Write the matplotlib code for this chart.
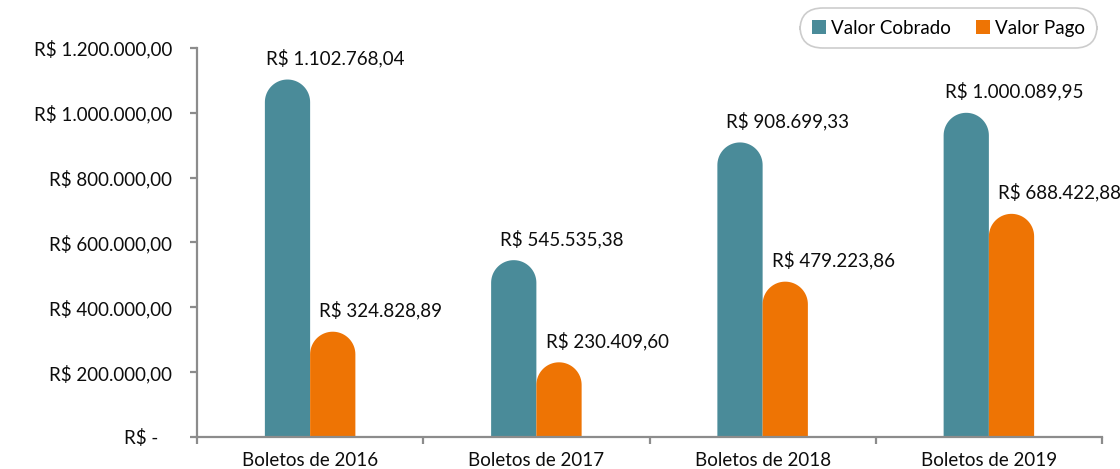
import matplotlib
matplotlib.use("Agg")
import matplotlib.pyplot as plt
from matplotlib.patches import PathPatch
from matplotlib.path import Path
import numpy as np

categories = ["Boletos de 2016", "Boletos de 2017", "Boletos de 2018", "Boletos de 2019"]
valor_cobrado = [1102768.04, 545535.38, 908699.33, 1000089.95]
valor_pago = [324828.89, 230409.60, 479223.86, 688422.88]
series_names = ["Valor Cobrado", "Valor Pago"]
ytick_values = [0, 200000, 400000, 600000, 800000, 1000000, 1200000]
ytick_labels = ["R$ -   ", "R$ 200.000,00", "R$ 400.000,00", "R$ 600.000,00",
                "R$ 800.000,00", "R$ 1.000.000,00", "R$ 1.200.000,00"]

def fmt(v):
    s = f"{v:,.2f}"
    s = s.replace(",", "X").replace(".", ",").replace("X", ".")
    return "R$ " + s

plt.rcParams['font.family'] = ['Lato', 'DejaVu Sans']
FS = 13.5
C_TEAL = "#4A8B99"
C_ORANGE = "#EE7404"
AX_C = "#8C8C8C"
TXT = "#0D0D0D"

W, H = 1120, 469
fig = plt.figure(figsize=(W / 100, H / 100), dpi=100)
ax = fig.add_axes([197 / W, 1 - 437 / H, (1102 - 197) / W, (437 - 48) / H])
ax.set_xlim(-0.5, len(categories) - 0.5)
ax.set_ylim(0, 1200000)

bw = 0.2
x = np.arange(len(categories))
px_per_x = (1102 - 197) / len(categories)
px_per_y = (437 - 48) / 1200000
ry = (bw * px_per_x / 2) / px_per_y
theta = np.linspace(np.pi, 0, 40)

for vals, color, off, name in [(valor_cobrado, C_TEAL, -bw / 2, series_names[0]),
                               (valor_pago, C_ORANGE, bw / 2, series_names[1])]:
    xs = x + off
    # zero-height bars provide legend handles
    ax.bar(xs, [0] * len(xs), width=bw, color=color, label=name, linewidth=0)
    for xi, v in zip(xs, vals):
        cy = v - ry
        arc_x = xi + (bw / 2) * np.cos(theta)
        arc_y = cy + ry * np.sin(theta)
        verts = [(xi - bw / 2, 0), (xi - bw / 2, cy)] + list(zip(arc_x, arc_y)) + \
                [(xi + bw / 2, cy), (xi + bw / 2, 0), (xi - bw / 2, 0)]
        codes = [Path.MOVETO] + [Path.LINETO] * (len(verts) - 2) + [Path.CLOSEPOLY]
        ax.add_patch(PathPatch(Path(verts, codes), facecolor=color, edgecolor='none'))
        ax.annotate(fmt(v), xy=(xi, v), xytext=(48, 12), textcoords='offset pixels',
                    ha='center', va='bottom', fontsize=FS, color=TXT,
                    annotation_clip=False)

for s in ['top', 'right']:
    ax.spines[s].set_visible(False)
for s in ['left', 'bottom']:
    ax.spines[s].set_color(AX_C)
    ax.spines[s].set_linewidth(1.6)

ax.set_yticks(ytick_values)
ax.set_yticklabels(ytick_labels, fontsize=FS, color=TXT)
ax.tick_params(axis='y', length=5, width=1.6, color=AX_C, pad=13)

ax.set_xticks(np.arange(len(categories) + 1) - 0.5)
ax.set_xticklabels([])
ax.tick_params(axis='x', which='major', length=5, width=1.6, color=AX_C)
ax.set_xticks(x, minor=True)
ax.set_xticklabels(categories, minor=True, fontsize=FS, color=TXT)
ax.tick_params(axis='x', which='minor', length=0, pad=11)

leg = fig.legend(loc='upper right', bbox_to_anchor=(1097 / W, 1 - 8 / H), ncol=2,
                 fontsize=FS, frameon=True, fancybox=True, handlelength=0.75,
                 handleheight=0.75, handletextpad=0.3, columnspacing=1.3,
                 borderpad=0.62, borderaxespad=0)
frame = leg.get_frame()
frame.set_edgecolor("#C0C0C0")
frame.set_linewidth(1.2)
frame.set_boxstyle("round,pad=0.0,rounding_size=1.2")

fig.savefig("out.png", dpi=100)
